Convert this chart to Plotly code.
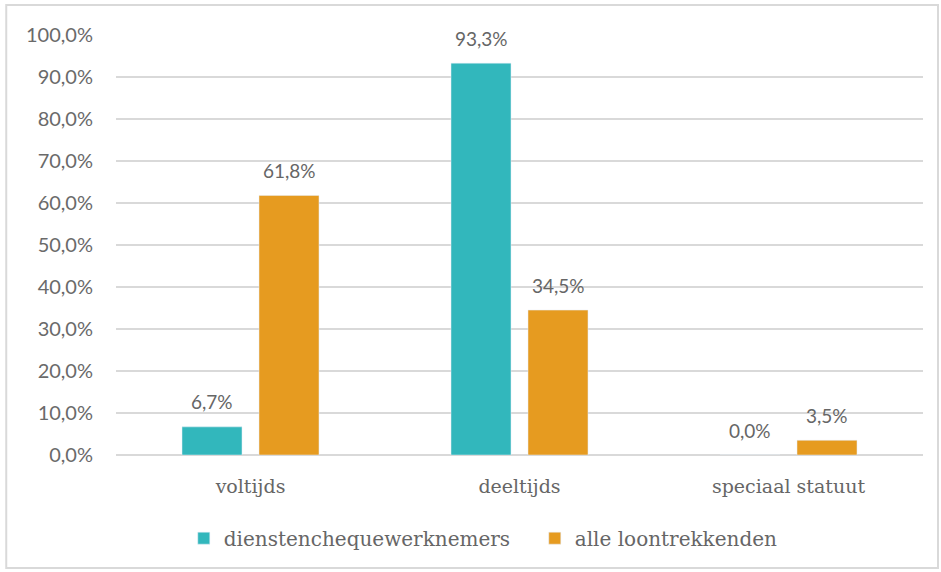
import plotly.graph_objects as go

categories = ["voltijds", "deeltijds", "speciaal statuut"]
dienstencheque = [6.7, 93.3, 0.0]
alle_loontrekkenden = [61.8, 34.5, 3.5]
series_names = ["dienstenchequewerknemers", "alle loontrekkenden"]
y_ticks = [0, 10, 20, 30, 40, 50, 60, 70, 80, 90, 100]

TEAL = "#32B7BC"
ORANGE = "#E69B20"
GRAY = "#666666"
SANS = "Lato, 'Open Sans', sans-serif"
SERIF = "'DejaVu Serif', serif"

def nl(v):
    return f"{v:.1f}".replace(".", ",") + "%"

fig = go.Figure()
annotations = []
for i, (name, vals, col) in enumerate([(series_names[0], dienstencheque, TEAL),
                                       (series_names[1], alle_loontrekkenden, ORANGE)]):
    fig.add_trace(go.Bar(x=categories, y=vals, name=name, marker_color=col))
    shift = -38.5 if i == 0 else 38.5
    for c, v in zip(categories, vals):
        annotations.append(dict(x=c, y=v, xref="x", yref="y", text=nl(v), showarrow=False,
                                xshift=shift, yshift=25, yanchor="middle",
                                font=dict(family=SANS, size=19, color=GRAY)))

fig.update_layout(
    width=941, height=572,
    margin=dict(l=116, r=18, t=35, b=117),
    paper_bgcolor="white", plot_bgcolor="white",
    barmode="group", bargap=0.4275, bargroupgap=0.221,
    showlegend=True,
    legend=dict(orientation="h", x=0.084, xanchor="left", y=-0.198, yanchor="middle",
                font=dict(family=SERIF, size=20, color=GRAY), itemwidth=30,
                entrywidth=306, entrywidthmode="pixels",
                traceorder="normal"),
    yaxis=dict(range=[0, 100], tickvals=y_ticks, ticktext=[nl(t) for t in y_ticks],
               showgrid=True, gridcolor="#d9d9d9", gridwidth=1.5,
               zeroline=True, zerolinecolor="#d9d9d9", zerolinewidth=1.5,
               tickfont=dict(family=SANS, size=20, color="#6a6a6a"),
               ticklabelstandoff=22, showline=False),
    xaxis=dict(tickfont=dict(family=SERIF, size=19, color=GRAY),
               ticklabelstandoff=18, showline=False),
    annotations=annotations,
    shapes=[dict(type="rect", xref="paper", yref="paper",
                 x0=-0.136, x1=1.0186, y0=-0.269, y1=1.0714,
                 line=dict(color="#d9d9d9", width=2), fillcolor="rgba(0,0,0,0)")],
)

fig.write_html("out.html", config={"displayModeBar": False})
with open("out.html", encoding="utf-8") as f:
    html = f.read()
html = html.replace("<body>", '<body style="margin:0">', 1)
with open("out.html", "w", encoding="utf-8") as f:
    f.write(html)
